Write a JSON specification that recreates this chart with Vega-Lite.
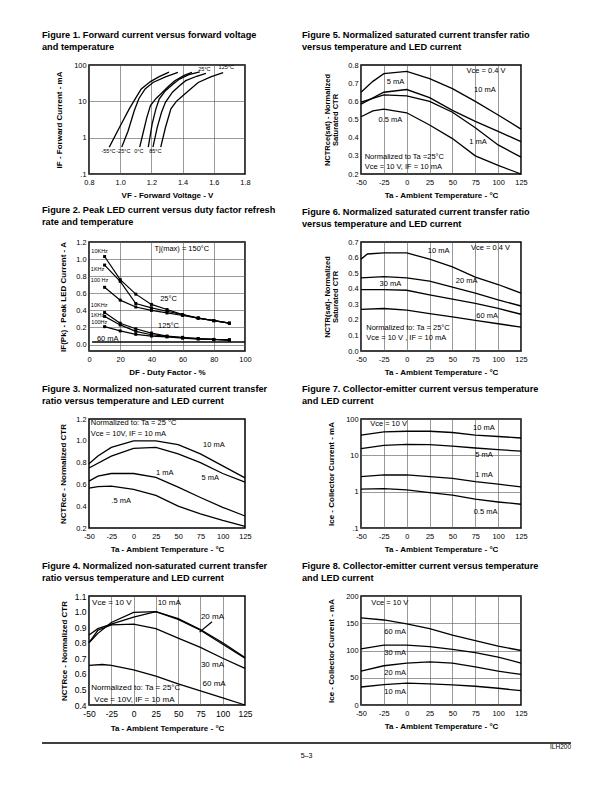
{
"$schema":"https://vega.github.io/schema/vega-lite/v6.json",
"padding":{"left":41,"top":30,"right":5,"bottom":5},
"config":{
 "font":"Liberation Sans",
 "view":{"stroke":"black","strokeWidth":1.5},
 "axis":{"domain":false,"ticks":false,"labelFontSize":7.4,"labelColor":"black","labelPadding":3,"labelOverlap":false,"labelFlush":false,"titleFontSize":8,"titleFontWeight":"bold","titleColor":"black","grid":false,"gridColor":"#555","gridWidth":0.6,"titlePadding":6},
 "axisX":{"labelPadding":4.5},
 "title":{"anchor":"start","frame":"group","fontSize":9.2,"fontWeight":"bold","color":"black","lineHeight":11.5,"offset":9},
 "text":{"fontSize":7.5,"color":"black"}
},
"datasets":{
 "f1":[
  {"t":"-55","v":0.93,"i":0.55},{"t":"-55","v":1.0,"i":2.1},{"t":"-55","v":1.058,"i":6.2},{"t":"-55","v":1.1,"i":12.5},{"t":"-55","v":1.135,"i":22},{"t":"-55","v":1.194,"i":35},{"t":"-55","v":1.25,"i":48},{"t":"-55","v":1.313,"i":64},
  {"t":"-25","v":1.01,"i":0.55},{"t":"-25","v":1.05,"i":1.5},{"t":"-25","v":1.09,"i":5.5},{"t":"-25","v":1.12,"i":12},{"t":"-25","v":1.16,"i":22},{"t":"-25","v":1.21,"i":33},{"t":"-25","v":1.29,"i":47},{"t":"-25","v":1.37,"i":63},
  {"t":"0","v":1.125,"i":0.55},{"t":"0","v":1.146,"i":1.3},{"t":"0","v":1.17,"i":3.5},{"t":"0","v":1.194,"i":7.6},{"t":"0","v":1.23,"i":12},{"t":"0","v":1.26,"i":16},{"t":"0","v":1.31,"i":26},{"t":"0","v":1.35,"i":37},{"t":"0","v":1.41,"i":52},{"t":"0","v":1.46,"i":63},
  {"t":"25","v":1.18,"i":0.55},{"t":"25","v":1.205,"i":2.4},{"t":"25","v":1.228,"i":6},{"t":"25","v":1.25,"i":11.5},{"t":"25","v":1.29,"i":19.6},{"t":"25","v":1.34,"i":30},{"t":"25","v":1.38,"i":41},{"t":"25","v":1.44,"i":54},{"t":"25","v":1.51,"i":65},
  {"t":"85","v":1.21,"i":0.55},{"t":"85","v":1.237,"i":1.9},{"t":"85","v":1.265,"i":5},{"t":"85","v":1.29,"i":9.4},{"t":"85","v":1.335,"i":17.8},{"t":"85","v":1.38,"i":27},{"t":"85","v":1.42,"i":37},{"t":"85","v":1.49,"i":49},{"t":"85","v":1.55,"i":59},
  {"t":"125","v":1.26,"i":0.55},{"t":"125","v":1.29,"i":1.9},{"t":"125","v":1.325,"i":6.2},{"t":"125","v":1.36,"i":10},{"t":"125","v":1.39,"i":13},{"t":"125","v":1.44,"i":20},{"t":"125","v":1.5,"i":33},{"t":"125","v":1.58,"i":47},{"t":"125","v":1.66,"i":62}
 ],
 "f1t":[
  {"label":"-55°C","v":0.925,"i":0.42},{"label":"-25°C","v":1.02,"i":0.42},{"label":"0°C","v":1.12,"i":0.42},{"label":"85°C","v":1.225,"i":0.44},{"label":"25°C","v":1.54,"i":78},{"label":"125°C","v":1.68,"i":87}
 ],
 "f2":[
  {"s":"25-10k","df":10,"a":1.03},{"s":"25-10k","df":20,"a":0.76},{"s":"25-10k","df":30,"a":0.59},{"s":"25-10k","df":40,"a":0.47},{"s":"25-10k","df":50,"a":0.41},{"s":"25-10k","df":60,"a":0.35},{"s":"25-10k","df":70,"a":0.31},{"s":"25-10k","df":80,"a":0.28},{"s":"25-10k","df":90,"a":0.25},
  {"s":"25-1k","df":10,"a":0.93},{"s":"25-1k","df":20,"a":0.74},{"s":"25-1k","df":30,"a":0.48},{"s":"25-1k","df":40,"a":0.43},{"s":"25-1k","df":50,"a":0.39},{"s":"25-1k","df":60,"a":0.35},{"s":"25-1k","df":70,"a":0.31},{"s":"25-1k","df":80,"a":0.28},{"s":"25-1k","df":90,"a":0.25},
  {"s":"25-100","df":10,"a":0.67},{"s":"25-100","df":20,"a":0.52},{"s":"25-100","df":30,"a":0.44},{"s":"25-100","df":40,"a":0.4},{"s":"25-100","df":50,"a":0.37},{"s":"25-100","df":60,"a":0.34},{"s":"25-100","df":70,"a":0.31},{"s":"25-100","df":80,"a":0.28},{"s":"25-100","df":90,"a":0.25},
  {"s":"125-10k","df":10,"a":0.375},{"s":"125-10k","df":20,"a":0.25},{"s":"125-10k","df":30,"a":0.185},{"s":"125-10k","df":40,"a":0.135},{"s":"125-10k","df":50,"a":0.1},{"s":"125-10k","df":60,"a":0.085},{"s":"125-10k","df":70,"a":0.07},{"s":"125-10k","df":80,"a":0.06},{"s":"125-10k","df":90,"a":0.055},
  {"s":"125-1k","df":10,"a":0.33},{"s":"125-1k","df":20,"a":0.23},{"s":"125-1k","df":30,"a":0.155},{"s":"125-1k","df":40,"a":0.115},{"s":"125-1k","df":50,"a":0.095},{"s":"125-1k","df":60,"a":0.08},{"s":"125-1k","df":70,"a":0.07},{"s":"125-1k","df":80,"a":0.06},{"s":"125-1k","df":90,"a":0.055},
  {"s":"125-100","df":10,"a":0.21},{"s":"125-100","df":20,"a":0.16},{"s":"125-100","df":30,"a":0.12},{"s":"125-100","df":40,"a":0.1},{"s":"125-100","df":50,"a":0.09},{"s":"125-100","df":60,"a":0.075},{"s":"125-100","df":70,"a":0.065},{"s":"125-100","df":80,"a":0.06},{"s":"125-100","df":90,"a":0.05}
 ],
 "f2b":[{"s":"60mA","df":2,"a":0.03},{"s":"60mA","df":100,"a":0.03}],
 "f2s":[
  {"label":"10KHz","df":1.5,"a":1.09},{"label":"1KHz","df":1.2,"a":0.89},{"label":"100 Hz","df":1.2,"a":0.75},{"label":"10KHz","df":1.2,"a":0.46},{"label":"1KHz","df":1.2,"a":0.346},{"label":"100Hz","df":1.5,"a":0.262}
 ],
 "f2c":[
  {"label":"25°C","df":51,"a":0.528},{"label":"125°C","df":51,"a":0.217},{"label":"Tj(max) = 150°C","df":59.5,"a":1.118},{"label":"60 mA","df":12,"a":0.06}
 ],
 "f3":[
  {"s":"10","t":-50,"r":0.79},{"s":"10","t":-40,"r":0.86},{"s":"10","t":-25,"r":0.94},{"s":"10","t":0,"r":1.0},{"s":"10","t":25,"r":1.0},{"s":"10","t":50,"r":0.965},{"s":"10","t":75,"r":0.88},{"s":"10","t":100,"r":0.77},{"s":"10","t":125,"r":0.66},
  {"s":"5","t":-50,"r":0.75},{"s":"5","t":-25,"r":0.86},{"s":"5","t":0,"r":0.93},{"s":"5","t":25,"r":0.94},{"s":"5","t":50,"r":0.88},{"s":"5","t":75,"r":0.8},{"s":"5","t":100,"r":0.7},{"s":"5","t":125,"r":0.62},
  {"s":"1","t":-50,"r":0.63},{"s":"1","t":-40,"r":0.675},{"s":"1","t":-25,"r":0.7},{"s":"1","t":0,"r":0.7},{"s":"1","t":25,"r":0.665},{"s":"1","t":50,"r":0.575},{"s":"1","t":75,"r":0.48},{"s":"1","t":100,"r":0.39},{"s":"1","t":125,"r":0.31},
  {"s":"0.5","t":-50,"r":0.565},{"s":"0.5","t":-40,"r":0.58},{"s":"0.5","t":-25,"r":0.585},{"s":"0.5","t":0,"r":0.555},{"s":"0.5","t":25,"r":0.5},{"s":"0.5","t":50,"r":0.4},{"s":"0.5","t":75,"r":0.33},{"s":"0.5","t":100,"r":0.27},{"s":"0.5","t":125,"r":0.215}
 ],
 "f3c":[{"label":"10 mA","t":90,"r":0.966},{"label":"5 mA","t":86,"r":0.66},{"label":"1 mA","t":35,"r":0.706},{"label":".5 mA","t":-14,"r":0.45}],
 "f3l":[{"label":"Normalized to: Ta = 25 °C","t":-48,"r":1.16},{"label":"Vce = 10V,  IF = 10 mA","t":-48,"r":1.06}],
 "f4":[
  {"s":"10","t":-50,"r":0.8},{"s":"10","t":-40,"r":0.86},{"s":"10","t":-25,"r":0.93},{"s":"10","t":0,"r":0.995},{"s":"10","t":25,"r":1.0},{"s":"10","t":50,"r":0.95},{"s":"10","t":75,"r":0.88},{"s":"10","t":100,"r":0.79},{"s":"10","t":125,"r":0.7},
  {"s":"20","t":-50,"r":0.85},{"s":"20","t":-40,"r":0.89},{"s":"20","t":-25,"r":0.92},{"s":"20","t":0,"r":0.965},{"s":"20","t":25,"r":1.0},{"s":"20","t":50,"r":0.955},{"s":"20","t":75,"r":0.885},{"s":"20","t":100,"r":0.8},{"s":"20","t":125,"r":0.705},
  {"s":"30","t":-50,"r":0.8},{"s":"30","t":-40,"r":0.88},{"s":"30","t":-25,"r":0.915},{"s":"30","t":0,"r":0.92},{"s":"30","t":25,"r":0.89},{"s":"30","t":50,"r":0.83},{"s":"30","t":75,"r":0.77},{"s":"30","t":100,"r":0.7},{"s":"30","t":125,"r":0.635},
  {"s":"60","t":-50,"r":0.655},{"s":"60","t":-35,"r":0.66},{"s":"60","t":-25,"r":0.655},{"s":"60","t":0,"r":0.625},{"s":"60","t":25,"r":0.585},{"s":"60","t":50,"r":0.535},{"s":"60","t":75,"r":0.49},{"s":"60","t":100,"r":0.445},{"s":"60","t":125,"r":0.4},
  {"s":"arrow","t":88,"r":0.935},{"s":"arrow","t":74,"r":0.868}
 ],
 "f4c":[{"label":"10 mA","t":40,"r":1.057},{"label":"20 mA","t":88.5,"r":0.964},{"label":"30 mA","t":88.5,"r":0.657},{"label":"60 mA","t":90.3,"r":0.534}],
 "f4l":[{"label":"Vce = 10 V","t":-46.5,"r":1.053},{"label":"Normalized to: Ta = 25°C","t":-47.5,"r":0.507},{"label":"Vce = 10V,  IF = 10 mA","t":-44,"r":0.435}],
 "f5":[
  {"s":"5","t":-50,"r":0.65},{"s":"5","t":-37,"r":0.71},{"s":"5","t":-25,"r":0.752},{"s":"5","t":0,"r":0.765},{"s":"5","t":25,"r":0.725},{"s":"5","t":50,"r":0.67},{"s":"5","t":75,"r":0.6},{"s":"5","t":100,"r":0.525},{"s":"5","t":125,"r":0.447},
  {"s":"10","t":-50,"r":0.585},{"s":"10","t":-25,"r":0.65},{"s":"10","t":0,"r":0.665},{"s":"10","t":25,"r":0.62},{"s":"10","t":50,"r":0.55},{"s":"10","t":75,"r":0.49},{"s":"10","t":100,"r":0.435},{"s":"10","t":125,"r":0.378},
  {"s":"1","t":-50,"r":0.595},{"s":"1","t":-25,"r":0.635},{"s":"1","t":0,"r":0.63},{"s":"1","t":25,"r":0.6},{"s":"1","t":50,"r":0.54},{"s":"1","t":75,"r":0.455},{"s":"1","t":100,"r":0.36},{"s":"1","t":125,"r":0.293},
  {"s":"0.5","t":-50,"r":0.515},{"s":"0.5","t":-37,"r":0.547},{"s":"0.5","t":-25,"r":0.557},{"s":"0.5","t":0,"r":0.537},{"s":"0.5","t":25,"r":0.47},{"s":"0.5","t":50,"r":0.395},{"s":"0.5","t":75,"r":0.3},{"s":"0.5","t":100,"r":0.247},{"s":"0.5","t":125,"r":0.2}
 ],
 "f5c":[{"label":"5 mA","t":-12.4,"r":0.706},{"label":"10 mA","t":85.5,"r":0.66},{"label":"0.5 mA","t":-18,"r":0.498},{"label":"1 mA","t":78,"r":0.376}],
 "f5l":[{"label":"Vce = 0.4 V","t":65.5,"r":0.766},{"label":"Normalized to Ta =25°C","t":-46,"r":0.293},{"label":"Vce = 10 V, IF = 10 mA","t":-46,"r":0.237}],
 "f6":[
  {"s":"10","t":-50,"r":0.59},{"s":"10","t":-43,"r":0.623},{"s":"10","t":-25,"r":0.63},{"s":"10","t":0,"r":0.63},{"s":"10","t":25,"r":0.59},{"s":"10","t":50,"r":0.54},{"s":"10","t":75,"r":0.475},{"s":"10","t":100,"r":0.427},{"s":"10","t":125,"r":0.372},
  {"s":"20","t":-50,"r":0.47},{"s":"20","t":-25,"r":0.477},{"s":"20","t":0,"r":0.47},{"s":"20","t":25,"r":0.449},{"s":"20","t":50,"r":0.41},{"s":"20","t":75,"r":0.372},{"s":"20","t":100,"r":0.328},{"s":"20","t":125,"r":0.289},
  {"s":"30","t":-50,"r":0.394},{"s":"30","t":-25,"r":0.394},{"s":"30","t":0,"r":0.39},{"s":"30","t":25,"r":0.36},{"s":"30","t":50,"r":0.333},{"s":"30","t":75,"r":0.306},{"s":"30","t":100,"r":0.273},{"s":"30","t":125,"r":0.236},
  {"s":"60","t":-50,"r":0.267},{"s":"60","t":-25,"r":0.273},{"s":"60","t":0,"r":0.262},{"s":"60","t":25,"r":0.24},{"s":"60","t":50,"r":0.219},{"s":"60","t":75,"r":0.197},{"s":"60","t":100,"r":0.175},{"s":"60","t":125,"r":0.153}
 ],
 "f6c":[{"label":"10 mA","t":35,"r":0.645},{"label":"30 mA","t":-17.8,"r":0.433},{"label":"20 mA","t":65.5,"r":0.448},{"label":"60 mA","t":88,"r":0.225}],
 "f6l":[{"label":"Vce = 0.4 V","t":70.4,"r":0.663},{"label":"Normalized to: Ta = 25°C","t":-44.3,"r":0.149},{"label":"Vce = 10 V , IF = 10 mA","t":-44.3,"r":0.083}],
 "f7":[
  {"s":"10","t":-50,"r":36},{"s":"10","t":-25,"r":44},{"s":"10","t":0,"r":46},{"s":"10","t":25,"r":46},{"s":"10","t":50,"r":42.5},{"s":"10","t":75,"r":36},{"s":"10","t":100,"r":33},{"s":"10","t":125,"r":30},
  {"s":"5","t":-50,"r":15.2},{"s":"5","t":-25,"r":18.9},{"s":"5","t":0,"r":20},{"s":"5","t":25,"r":19.7},{"s":"5","t":50,"r":18},{"s":"5","t":75,"r":15.9},{"s":"5","t":100,"r":14.3},{"s":"5","t":125,"r":13.1},
  {"s":"1","t":-50,"r":2.58},{"s":"1","t":-25,"r":2.88},{"s":"1","t":0,"r":2.88},{"s":"1","t":25,"r":2.58},{"s":"1","t":50,"r":2.32},{"s":"1","t":75,"r":1.88},{"s":"1","t":100,"r":1.61},{"s":"1","t":125,"r":1.36},
  {"s":"0.5","t":-50,"r":1.17},{"s":"0.5","t":-25,"r":1.22},{"s":"0.5","t":0,"r":1.12},{"s":"0.5","t":25,"r":0.946},{"s":"0.5","t":50,"r":0.8},{"s":"0.5","t":75,"r":0.62},{"s":"0.5","t":100,"r":0.52},{"s":"0.5","t":125,"r":0.45}
 ],
 "f7c":[{"label":"10 mA","t":84.4,"r":57.4},{"label":"5 mA","t":84.4,"r":10.4},{"label":"1 mA","t":84.4,"r":2.88},{"label":"0.5 mA","t":86.2,"r":0.273}],
 "f7l":[{"label":"Vce = 10 V","t":-40,"r":72.5}],
 "f8":[
  {"s":"60","t":-50,"r":160},{"s":"60","t":-25,"r":156},{"s":"60","t":0,"r":149},{"s":"60","t":25,"r":140},{"s":"60","t":50,"r":128},{"s":"60","t":75,"r":118},{"s":"60","t":100,"r":108},{"s":"60","t":125,"r":100},
  {"s":"30","t":-50,"r":103},{"s":"30","t":-25,"r":110},{"s":"30","t":0,"r":110},{"s":"30","t":25,"r":107},{"s":"30","t":50,"r":102},{"s":"30","t":75,"r":96},{"s":"30","t":100,"r":88},{"s":"30","t":125,"r":77},
  {"s":"20","t":-50,"r":62},{"s":"20","t":-25,"r":72},{"s":"20","t":0,"r":77},{"s":"20","t":25,"r":79},{"s":"20","t":50,"r":77},{"s":"20","t":75,"r":70},{"s":"20","t":100,"r":62},{"s":"20","t":125,"r":56},
  {"s":"10","t":-50,"r":33},{"s":"10","t":-25,"r":37.5},{"s":"10","t":0,"r":40},{"s":"10","t":25,"r":38.6},{"s":"10","t":50,"r":36.8},{"s":"10","t":75,"r":34.4},{"s":"10","t":100,"r":30.7},{"s":"10","t":125,"r":26.4}
 ],
 "f8c":[{"label":"60 mA","t":-12.6,"r":133.7},{"label":"30 mA","t":-12.6,"r":95},{"label":"20 mA","t":-12.6,"r":58},{"label":"10 mA","t":-12.6,"r":23.3}],
 "f8l":[{"label":"Vce = 10 V","t":-38.7,"r":187.7}]
},
"vconcat":[
 {"concat":[
   {"width":156,"height":109,
    "title":{"text":["Figure 1.  Forward current versus forward voltage","and temperature"],"dx":-47},
    "layer":[
     {"data":{"name":"f1"},"mark":{"type":"line","color":"black","strokeWidth":1.3},
      "encoding":{
       "x":{"field":"v","type":"quantitative","scale":{"domain":[0.8,1.8],"nice":false,"zero":false},"axis":{"title":"VF  -  Forward  Voltage  -  V","values":[0.8,1.0,1.2,1.4,1.6,1.8],"format":".1f","grid":true,"tickCount":30,"labelOverlap":false,"labelFlush":false}},
       "y":{"field":"i","type":"quantitative","scale":{"type":"log","domain":[0.1,100]},"axis":{"title":"IF  -  Forward  Current  -  mA","values":[0.1,1,10,100],"format":"~g","labelExpr":"datum.value < 0.5 ? '.1' : datum.label","grid":true,"titlePadding":10,"tickCount":30,"labelOverlap":false,"labelFlush":false}},
       "detail":{"field":"t"}}},
     {"data":{"name":"f1t"},"mark":{"type":"text","fontSize":5.5},
      "encoding":{"x":{"field":"v","type":"quantitative"},"y":{"field":"i","type":"quantitative"},"text":{"field":"label"}}}
    ]},
   {"width":160,"height":109,
    "title":{"text":["Figure 5.  Normalized saturated current transfer ratio","versus temperature and LED current"],"dx":-59},
    "layer":[
     {"data":{"name":"f5"},"mark":{"type":"line","color":"black","strokeWidth":1.3},
      "encoding":{
       "x":{"field":"t","type":"quantitative","scale":{"domain":[-50,125],"nice":false,"zero":false},"axis":{"title":"Ta -  Ambient Temperature - °C","values":[-50,-25,0,25,50,75,100,125],"labelExpr":"'' + datum.value","grid":true,"tickCount":30,"labelOverlap":false,"labelFlush":false}},
       "y":{"field":"r","type":"quantitative","scale":{"domain":[0.2,0.8],"nice":false,"zero":false},"axis":{"title":["NCTRce(sat) - Normalized","Saturated CTR"],"titleFontSize":7.5,"titleLineHeight":8,"values":[0.2,0.3,0.4,0.5,0.6,0.7,0.8],"format":".1f","titlePadding":8,"tickCount":30,"labelOverlap":false,"labelFlush":false}},
       "detail":{"field":"s"}}},
     {"data":{"name":"f5c"},"mark":{"type":"text"},
      "encoding":{"x":{"field":"t","type":"quantitative"},"y":{"field":"r","type":"quantitative"},"text":{"field":"label"}}},
     {"data":{"name":"f5l"},"mark":{"type":"text","align":"left"},
      "encoding":{"x":{"field":"t","type":"quantitative"},"y":{"field":"r","type":"quantitative"},"text":{"field":"label"}}}
    ]},
   {"width":156,"height":109,
    "title":{"text":["Figure 2.  Peak LED current versus duty factor refresh","rate and temperature"],"dx":-47},
    "layer":[
     {"data":{"name":"f2"},"mark":{"type":"line","color":"black","strokeWidth":1.2,"point":{"shape":"square","size":9,"filled":true,"color":"black"}},
      "encoding":{
       "x":{"field":"df","type":"quantitative","scale":{"domain":[0,100],"nice":false},"axis":{"title":"DF  -  Duty Factor  -  %","values":[0,20,40,60,80,100],"grid":true,"tickCount":30,"labelOverlap":false,"labelFlush":false}},
       "y":{"field":"a","type":"quantitative","scale":{"domain":[-0.075,1.2],"nice":false,"zero":false},"axis":{"title":"IF(Pk)  -  Peak LED  Current  -  A","values":[0,0.2,0.4,0.6,0.8,1.0,1.2],"format":".1f","grid":true,"titlePadding":8,"tickCount":30,"labelOverlap":false,"labelFlush":false}},
       "detail":{"field":"s"}}},
     {"data":{"name":"f2b"},"mark":{"type":"line","color":"black","strokeWidth":1.6},
      "encoding":{"x":{"field":"df","type":"quantitative"},"y":{"field":"a","type":"quantitative"}}},
     {"data":{"name":"f2s"},"mark":{"type":"text","fontSize":5.5,"align":"left"},
      "encoding":{"x":{"field":"df","type":"quantitative"},"y":{"field":"a","type":"quantitative"},"text":{"field":"label"}}},
     {"data":{"name":"f2c"},"mark":{"type":"text","fontSize":7.5},
      "encoding":{"x":{"field":"df","type":"quantitative"},"y":{"field":"a","type":"quantitative"},"text":{"field":"label"}}}
    ]},
   {"width":160,"height":109,
    "title":{"text":["Figure 6.  Normalized saturated current transfer ratio","versus temperature and LED current"],"dx":-59},
    "layer":[
     {"data":{"name":"f6"},"mark":{"type":"line","color":"black","strokeWidth":1.3},
      "encoding":{
       "x":{"field":"t","type":"quantitative","scale":{"domain":[-50,125],"nice":false,"zero":false},"axis":{"title":"Ta - Ambient Temperature - °C","values":[-50,-25,0,25,50,75,100,125],"labelExpr":"'' + datum.value","grid":true,"tickCount":30,"labelOverlap":false,"labelFlush":false}},
       "y":{"field":"r","type":"quantitative","scale":{"domain":[0,0.7],"nice":false,"zero":false},"axis":{"title":["NCTR(sat)- Normalized","Saturated CTR"],"titleFontSize":7.5,"titleLineHeight":8,"values":[0,0.1,0.2,0.3,0.4,0.5,0.6,0.7],"format":".1f","titlePadding":8,"tickCount":30,"labelOverlap":false,"labelFlush":false}},
       "detail":{"field":"s"}}},
     {"data":{"name":"f6c"},"mark":{"type":"text"},
      "encoding":{"x":{"field":"t","type":"quantitative"},"y":{"field":"r","type":"quantitative"},"text":{"field":"label"}}},
     {"data":{"name":"f6l"},"mark":{"type":"text","align":"left"},
      "encoding":{"x":{"field":"t","type":"quantitative"},"y":{"field":"r","type":"quantitative"},"text":{"field":"label"}}}
    ]},
   {"width":156,"height":109,
    "title":{"text":["Figure 3.  Normalized non-saturated current transfer","ratio versus temperature and LED current"],"dx":-47},
    "layer":[
     {"data":{"name":"f3"},"mark":{"type":"line","color":"black","strokeWidth":1.3},
      "encoding":{
       "x":{"field":"t","type":"quantitative","scale":{"domain":[-50,125],"nice":false,"zero":false},"axis":{"title":"Ta - Ambient Temperature - °C","values":[-50,-25,0,25,50,75,100,125],"labelExpr":"'' + datum.value","tickCount":30,"labelOverlap":false,"labelFlush":false}},
       "y":{"field":"r","type":"quantitative","scale":{"domain":[0.2,1.2],"nice":false,"zero":false},"axis":{"title":"NCTRce - Normalized CTR","values":[0.2,0.4,0.6,0.8,1.0,1.2],"format":".1f","titlePadding":8,"tickCount":30,"labelOverlap":false,"labelFlush":false}},
       "detail":{"field":"s"}}},
     {"data":{"name":"f3c"},"mark":{"type":"text"},
      "encoding":{"x":{"field":"t","type":"quantitative"},"y":{"field":"r","type":"quantitative"},"text":{"field":"label"}}},
     {"data":{"name":"f3l"},"mark":{"type":"text","align":"left"},
      "encoding":{"x":{"field":"t","type":"quantitative"},"y":{"field":"r","type":"quantitative"},"text":{"field":"label"}}}
    ]},
   {"width":160,"height":109,
    "title":{"text":["Figure 7.  Collector-emitter current versus temperature","and LED current"],"dx":-59},
    "layer":[
     {"data":{"name":"f7"},"mark":{"type":"line","color":"black","strokeWidth":1.3},
      "encoding":{
       "x":{"field":"t","type":"quantitative","scale":{"domain":[-50,125],"nice":false,"zero":false},"axis":{"title":"Ta - Ambient Temperature - °C","values":[-50,-25,0,25,50,75,100,125],"labelExpr":"'' + datum.value","grid":true,"tickCount":30,"labelOverlap":false,"labelFlush":false}},
       "y":{"field":"r","type":"quantitative","scale":{"type":"log","domain":[0.1,100]},"axis":{"title":"Ice  -  Collector Current - mA","values":[0.1,1,10,100],"format":"~g","labelExpr":"datum.value < 0.5 ? '.1' : datum.label","grid":true,"titlePadding":10,"tickCount":30,"labelOverlap":false,"labelFlush":false}},
       "detail":{"field":"s"}}},
     {"data":{"name":"f7c"},"mark":{"type":"text"},
      "encoding":{"x":{"field":"t","type":"quantitative"},"y":{"field":"r","type":"quantitative"},"text":{"field":"label"}}},
     {"data":{"name":"f7l"},"mark":{"type":"text","align":"left"},
      "encoding":{"x":{"field":"t","type":"quantitative"},"y":{"field":"r","type":"quantitative"},"text":{"field":"label"}}}
    ]},
   {"width":156,"height":109,
    "title":{"text":["Figure 4.  Normalized non-saturated current transfer","ratio versus temperature and LED current"],"dx":-47},
    "layer":[
     {"data":{"name":"f4"},"mark":{"type":"line","color":"black","strokeWidth":1.3},
      "encoding":{
       "x":{"field":"t","type":"quantitative","scale":{"domain":[-50,125],"nice":false,"zero":false},"axis":{"title":"Ta - Ambient Temperature - °C","values":[-50,-25,0,25,50,75,100,125],"labelExpr":"'' + datum.value","grid":true,"labelFontSize":8.5,"tickCount":30,"labelOverlap":false,"labelFlush":false}},
       "y":{"field":"r","type":"quantitative","scale":{"domain":[0.4,1.1],"nice":false,"zero":false},"axis":{"title":"NCTRce - Normalized CTR","values":[0.4,0.5,0.6,0.7,0.8,0.9,1.0,1.1],"format":".1f","labelFontSize":8.5,"titlePadding":6,"tickCount":30,"labelOverlap":false,"labelFlush":false}},
       "detail":{"field":"s"}}},
     {"data":{"name":"f4c"},"mark":{"type":"text","fontSize":8},
      "encoding":{"x":{"field":"t","type":"quantitative"},"y":{"field":"r","type":"quantitative"},"text":{"field":"label"}}},
     {"data":{"name":"f4l"},"mark":{"type":"text","align":"left","fontSize":8},
      "encoding":{"x":{"field":"t","type":"quantitative"},"y":{"field":"r","type":"quantitative"},"text":{"field":"label"}}}
    ]},
   {"width":160,"height":109,
    "title":{"text":["Figure 8.  Collector-emitter current versus temperature","and LED current"],"dx":-59},
    "layer":[
     {"data":{"name":"f8"},"mark":{"type":"line","color":"black","strokeWidth":1.3},
      "encoding":{
       "x":{"field":"t","type":"quantitative","scale":{"domain":[-50,125],"nice":false,"zero":false},"axis":{"title":"Ta - Ambient Temperature - °C","values":[-50,-25,0,25,50,75,100,125],"labelExpr":"'' + datum.value","grid":true,"tickCount":30,"labelOverlap":false,"labelFlush":false}},
       "y":{"field":"r","type":"quantitative","scale":{"domain":[0,200],"nice":false},"axis":{"title":"Ice - Collector Current - mA","values":[0,50,100,150,200],"grid":true,"titlePadding":10,"tickCount":30,"labelOverlap":false,"labelFlush":false}},
       "detail":{"field":"s"}}},
     {"data":{"name":"f8c"},"mark":{"type":"text"},
      "encoding":{"x":{"field":"t","type":"quantitative"},"y":{"field":"r","type":"quantitative"},"text":{"field":"label"}}},
     {"data":{"name":"f8l"},"mark":{"type":"text","align":"left"},
      "encoding":{"x":{"field":"t","type":"quantitative"},"y":{"field":"r","type":"quantitative"},"text":{"field":"label"}}}
    ]}
  ],"columns":2,"spacing":{"row":68,"column":116},"bounds":"flush"},
 {"width":482,"height":20,
  "view":{"stroke":null},
  "data":{"values":[{}]},
  "layer":[
   {"mark":{"type":"rule","strokeWidth":1.5,"color":"black"},
    "encoding":{"x":{"datum":0,"type":"quantitative","scale":{"domain":[0,1],"range":[-47,482]},"axis":null},"x2":{"datum":1},"y":{"datum":0,"type":"quantitative","scale":{"domain":[0,20],"reverse":true},"axis":null}}},
   {"mark":{"type":"text","fontSize":7,"align":"center","baseline":"middle"},
    "encoding":{"x":{"datum":0.5,"type":"quantitative"},"y":{"datum":13,"type":"quantitative"},"text":{"value":"5–3"}}},
   {"mark":{"type":"text","fontSize":6.5,"align":"right","baseline":"middle"},
    "encoding":{"x":{"datum":1,"type":"quantitative"},"y":{"datum":4,"type":"quantitative"},"text":{"value":"ILH200"}}}
  ]}
],
"spacing":9
}
